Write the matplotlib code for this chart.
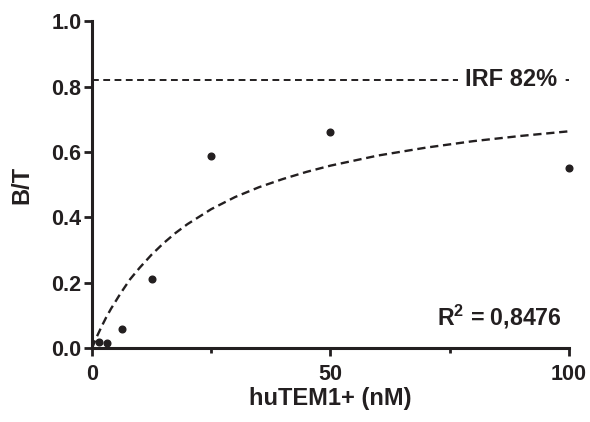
import matplotlib
matplotlib.use("Agg")
import matplotlib.pyplot as plt
from matplotlib.ticker import MultipleLocator, FormatStrFormatter

plt.rcParams['font.family'] = ['Liberation Sans', 'DejaVu Sans']
plt.rcParams['font.weight'] = 'bold'
plt.rcParams['mathtext.fontset'] = 'custom'
plt.rcParams['mathtext.rm'] = 'Liberation Sans'
plt.rcParams['mathtext.bf'] = 'Liberation Sans:bold'

ink = '#231f20'

# measured points
conc = [1.5625, 3.125, 6.25, 12.5, 25, 50, 100]
bt = [0.019, 0.016, 0.060, 0.211, 0.588, 0.662, 0.550]

# fitted curve
fit_x = [0, 1, 2, 3, 4, 6, 8, 10, 12.5, 15, 17.5, 20, 25, 30, 35, 40, 45, 50,
         60, 70, 80, 90, 100]
fit_y = [0.0, 0.035, 0.066, 0.095, 0.121, 0.168, 0.211, 0.246, 0.286, 0.321,
         0.352, 0.379, 0.425, 0.462, 0.492, 0.517, 0.539, 0.558, 0.589, 0.613,
         0.633, 0.649, 0.663]

irf = 0.82
r2_text = r'R$^{\mathbf{2}}$ = 0,8476'

fig = plt.figure(figsize=(5.9, 4.22), dpi=100)
ax = fig.add_axes([0.156, 0.175, 0.808, 0.775])

ax.plot([0, 100], [irf, irf], color=ink, lw=1.4, dashes=(3.5, 2.3))
ax.text(87.8, irf, 'IRF 82%', ha='center', va='center', fontsize=17,
        fontweight='bold', color=ink,
        bbox=dict(facecolor='white', edgecolor='none', pad=5))

ax.plot(fit_x, fit_y, color=ink, lw=1.7, dashes=(3.5, 2.0))
ax.plot(conc, bt, 'o', color=ink, ms=4.8, clip_on=False, zorder=5)

ax.text(98.5, 0.07, r2_text, ha='right', va='baseline', fontsize=16.7,
        fontweight='bold', color=ink)

ax.set_xlim(0, 100)
ax.set_ylim(0, 1.0)
ax.xaxis.set_major_locator(MultipleLocator(50))
ax.xaxis.set_minor_locator(MultipleLocator(25))
ax.yaxis.set_major_locator(MultipleLocator(0.2))
ax.yaxis.set_major_formatter(FormatStrFormatter('%.1f'))

for s in ['top', 'right']:
    ax.spines[s].set_visible(False)
for s in ['left', 'bottom']:
    ax.spines[s].set_linewidth(2.2)
    ax.spines[s].set_color(ink)

ax.tick_params(which='major', length=5.5, width=2, color=ink, labelsize=15.5,
               labelcolor=ink)
ax.tick_params(axis='x', which='major', pad=6)
ax.tick_params(axis='y', which='major', pad=2)
ax.tick_params(which='minor', length=3.5, width=2, color=ink)
for lab in ax.get_xticklabels() + ax.get_yticklabels():
    lab.set_fontweight('bold')

ax.set_xlabel('huTEM1+ (nM)', fontsize=17, fontweight='bold', color=ink, labelpad=1)
ax.set_ylabel('B/T', fontsize=17, fontweight='bold', color=ink, labelpad=13)

fig.savefig('out.png', dpi=100)
